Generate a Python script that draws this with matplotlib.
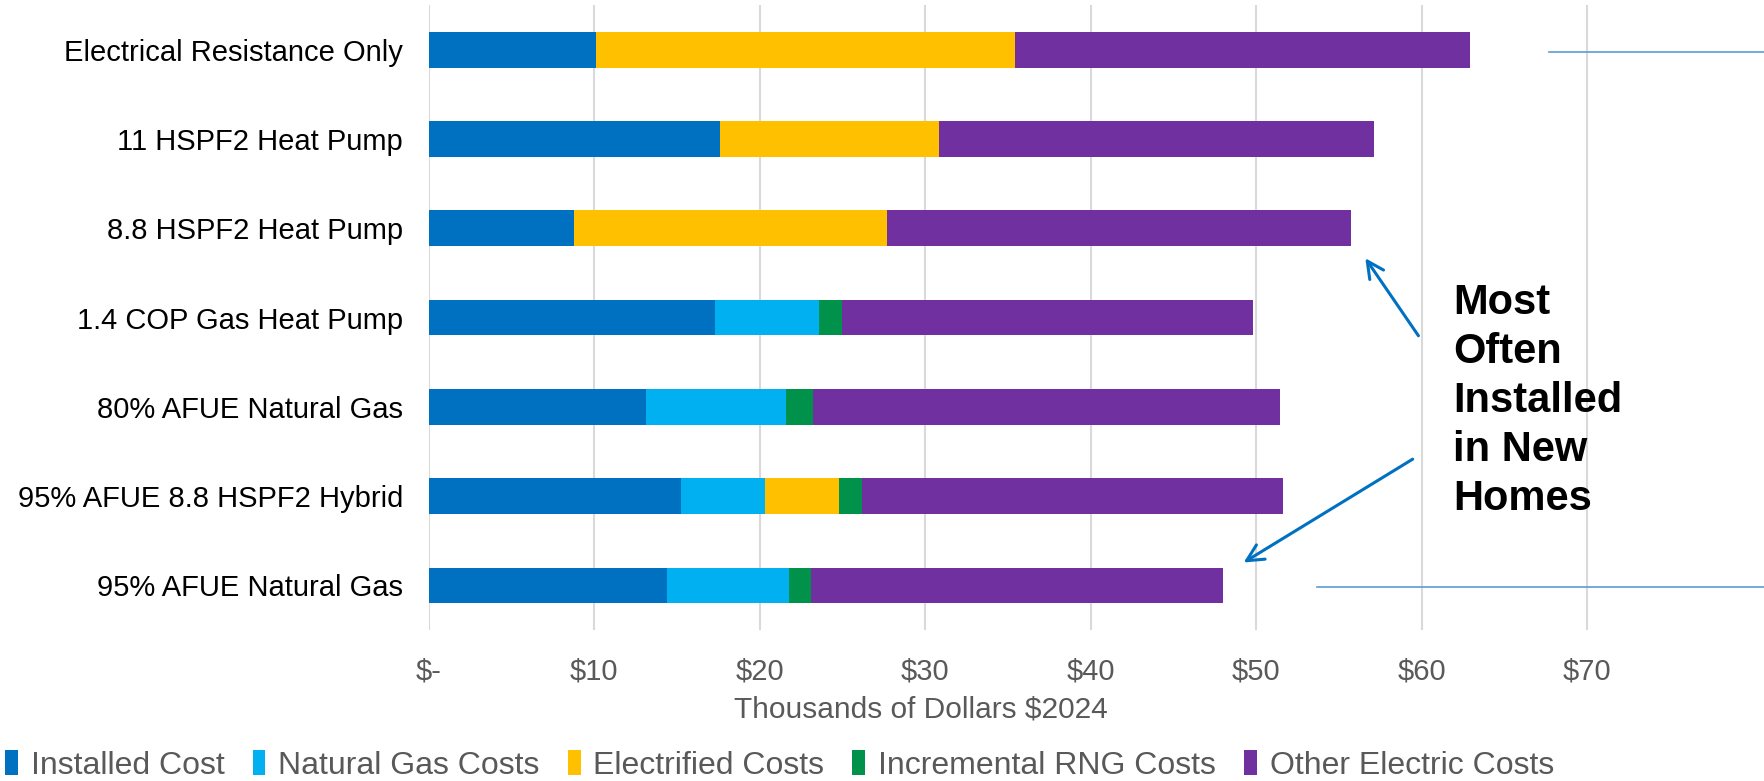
import matplotlib
matplotlib.use('Agg')
import matplotlib.pyplot as plt
from matplotlib.patches import Patch
from matplotlib.lines import Line2D
import numpy as np

plt.rcParams['font.family'] = ['Liberation Sans', 'DejaVu Sans']

categories = ['Electrical Resistance Only', '11 HSPF2 Heat Pump', '8.8 HSPF2 Heat Pump',
              '1.4 COP Gas Heat Pump', '80% AFUE Natural Gas',
              '95% AFUE 8.8 HSPF2 Hybrid', '95% AFUE Natural Gas']

installed = [10.1, 17.6, 8.8, 17.3, 13.1, 15.25, 14.4]
natural_gas = [0, 0, 0, 6.3, 8.5, 5.1, 7.4]
electrified = [25.3, 13.25, 18.9, 0, 0, 4.45, 0]
rng = [0, 0, 0, 1.4, 1.6, 1.4, 1.3]
other_electric = [27.5, 26.3, 28.05, 24.8, 28.25, 25.4, 24.9]

series_names = ['Installed Cost', 'Natural Gas Costs', 'Electrified Costs',
                'Incremental RNG Costs', 'Other Electric Costs']
colors = ['#0070C0', '#00B0F0', '#FFC000', '#00924A', '#7030A0']

xticks = [0, 10, 20, 30, 40, 50, 60, 70]
xtick_labels = ['$-', '$10', '$20', '$30', '$40', '$50', '$60', '$70']

fig = plt.figure(figsize=(17.65, 7.81), dpi=100)
ax = fig.add_axes([0.2429, 0.1933, 0.7501, 0.8003])

y = np.arange(len(categories))
left = np.zeros(len(categories))
for vals, name, c in zip([installed, natural_gas, electrified, rng, other_electric],
                         series_names, colors):
    ax.barh(y, vals, left=left, height=0.4, color=c, label=name, zorder=3)
    left += np.array(vals)

ax.set_ylim(len(categories) - 0.5, -0.5)
ax.set_xlim(0, 80)
ax.set_yticks(y)
ax.set_yticklabels(categories, fontsize=21, color='black')
ax.set_xticks(xticks)
ax.set_xticklabels(xtick_labels, fontsize=21, color='#595959')
ax.tick_params(axis='both', length=0)
ax.tick_params(axis='y', pad=18.5)
ax.tick_params(axis='x', pad=20)
ax.grid(axis='x', color='#D9D9D9', linewidth=1.5, zorder=0)
for s in ax.spines.values():
    s.set_visible(False)

ax.set_xlabel('Thousands of Dollars $2024', fontsize=21.5, color='#595959')
ax.xaxis.set_label_coords(0.372, -0.104)

# annotation
ax.text(61.9, 3.93, 'Most\nOften\nInstalled\nin New\nHomes', fontsize=30,
        fontweight='bold', color='black', ha='left', va='center', linespacing=1.29)
arrow_kw = dict(arrowstyle='->', color='#0070C0', lw=2.2, mutation_scale=30)
ax.annotate('', xy=(56.5, 2.31), xytext=(59.9, 3.23), arrowprops=arrow_kw)
ax.annotate('', xy=(49.1, 5.76), xytext=(59.6, 4.57), arrowprops=arrow_kw)

# stray connector lines from the original slide
fig.add_artist(Line2D([1549 / 1765, 1.0], [1 - 52 / 781, 1 - 52 / 781],
                      color='#5B9BD5', lw=1.2))
fig.add_artist(Line2D([1317 / 1765, 1.0], [1 - 587 / 781, 1 - 587 / 781],
                      color='#5B9BD5', lw=1.2))

handles = [Patch(facecolor=c, edgecolor='none') for c in colors]
leg = fig.legend(handles, series_names, loc='center left', bbox_to_anchor=(0.003, 0.020),
                 ncol=5, frameon=False, fontsize=23, handlelength=0.4,
                 handleheight=0.85, handletextpad=0.4, columnspacing=0.88,
                 borderaxespad=0, borderpad=0)
for t in leg.get_texts():
    t.set_color('#595959')

fig.savefig('out.png', dpi=100)
